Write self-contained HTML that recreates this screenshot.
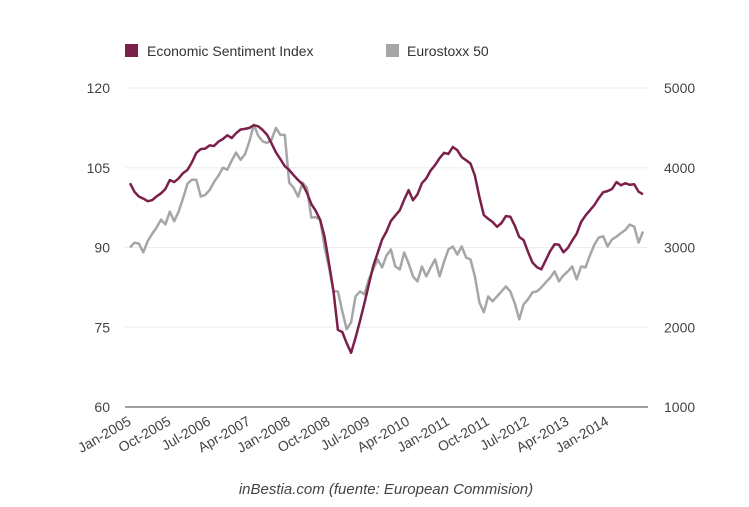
<!DOCTYPE html>
<html><head><meta charset="utf-8">
<style>
body{margin:0;background:#fff;}
svg{font-family:"Liberation Sans",sans-serif;}
</style></head>
<body>
<svg id="chart" width="749" height="502" viewBox="0 0 749 502" xmlns="http://www.w3.org/2000/svg">
<g>
 <rect x="125" y="44" width="13" height="13" fill="#7b1f4b"/>
 <text x="147" y="56" font-size="14" fill="#333">Economic Sentiment Index</text>
 <rect x="386" y="44" width="13" height="13" fill="#a6a6a6"/>
 <text x="407" y="56" font-size="14" fill="#333">Eurostoxx 50</text>
</g>
<g id="grid"></g>
<g id="yl"></g>
<g id="yr"></g>
<g id="xl"></g>
<g id="series"></g>
<text x="386" y="494" font-size="15" font-style="italic" fill="#444" text-anchor="middle">inBestia.com (fuente: European Commision)</text>
</svg>
<script>
const esi=[102.1,100.5,99.6,99.2,98.7,98.9,99.6,100.2,101.0,102.7,102.3,103.0,104.0,104.6,106.0,107.8,108.5,108.6,109.2,109.1,109.9,110.4,111.1,110.6,111.5,112.2,112.3,112.5,113.0,112.8,112.1,111.2,109.6,107.9,106.6,105.3,104.6,103.6,102.7,101.9,100.3,98.2,96.9,95.2,92.0,87.0,81.9,74.5,74.1,72.0,70.2,73.0,76.2,79.5,83.0,86.5,89.0,91.5,93.0,95.0,96.0,97.0,99.0,100.8,98.9,100.0,102.1,103.0,104.5,105.5,106.8,107.8,107.6,108.9,108.3,107.0,106.4,105.8,103.5,99.5,96.1,95.4,94.8,93.9,94.6,95.9,95.8,94.1,92.0,91.4,89.2,87.2,86.3,85.9,87.6,89.3,90.6,90.5,89.1,89.9,91.3,92.6,94.8,96.0,97.0,98.0,99.3,100.4,100.6,101.0,102.3,101.7,102.1,101.8,101.9,100.5,100.0];
const stoxx=[3000,3060,3050,2940,3080,3170,3250,3350,3290,3450,3330,3450,3620,3800,3850,3850,3640,3660,3720,3820,3900,4000,3975,4090,4190,4100,4170,4330,4540,4400,4330,4312,4350,4500,4412,4412,3812,3750,3637,3812,3750,3375,3380,3350,3000,2750,2450,2450,2200,1975,2062,2387,2450,2412,2600,2725,2850,2750,2900,2975,2762,2725,2937,2800,2637,2575,2762,2637,2750,2850,2637,2820,2975,3012,2912,3012,2875,2850,2637,2312,2187,2387,2325,2387,2450,2512,2450,2300,2100,2287,2350,2437,2450,2500,2562,2620,2700,2575,2650,2700,2762,2600,2762,2750,2900,3037,3125,3140,3012,3100,3137,3180,3220,3287,3262,3062,3200];
const leftTicks=[60,75,90,105,120];
const rightTicks=[1000,2000,3000,4000,5000];
const xLabels=["Jan-2005","Oct-2005","Jul-2006","Apr-2007","Jan-2008","Oct-2008","Jul-2009","Apr-2010","Jan-2011","Oct-2011","Jul-2012","Apr-2013","Jan-2014"];
const labelStep=9;
const NS="http://www.w3.org/2000/svg";
const X0=130,X1=643,YT=88,YB=407;
const xs=i=>X0+(X1-X0)*i/(esi.length-1);
const yL=v=>YB-(v-60)/(120-60)*(YB-YT);
const yR=v=>YB-(v-1000)/(5000-1000)*(YB-YT);
function mk(tag,attrs,parent){const e=document.createElementNS(NS,tag);for(const k in attrs)e.setAttribute(k,attrs[k]);parent.appendChild(e);return e;}
const grid=document.getElementById('grid'),yl=document.getElementById('yl'),yr=document.getElementById('yr'),xl=document.getElementById('xl'),ser=document.getElementById('series');
leftTicks.forEach((t,i)=>{
 const y=yL(t);
 if(i>0){const g=mk('line',{x1:125,x2:648,y1:y,y2:y,stroke:'#eeeeee','stroke-width':1},grid);
 
 }
 const tx=mk('text',{x:110,y:y+5,'font-size':14,fill:'#444','text-anchor':'end'},yl);tx.textContent=t;
 
 
});
rightTicks.forEach(t=>{
 const y=yR(t);
 const tx=mk('text',{x:664,y:y+5,'font-size':14,fill:'#444'},yr);tx.textContent=t;
 
 
});
const ax=mk('line',{x1:125,x2:648,y1:YB,y2:YB,stroke:'#666','stroke-width':1.3},xl);


xLabels.forEach((l,i)=>{
 const x=xs(i*labelStep)+2,y=YB+17;
 const tx=mk('text',{x:x,y:y,'font-size':14,fill:'#444','text-anchor':'end',transform:`rotate(-30 ${x} ${y})`},xl);tx.textContent=l;
 
 
});
const p2=mk('polyline',{points:stoxx.map((v,i)=>xs(i).toFixed(1)+','+yR(v).toFixed(1)).join(' '),fill:'none',stroke:'#a6a6a6','stroke-width':2.5,'stroke-linejoin':'round'},ser);


const p1=mk('polyline',{points:esi.map((v,i)=>xs(i).toFixed(1)+','+yL(v).toFixed(1)).join(' '),fill:'none',stroke:'#7b1f4b','stroke-width':2.5,'stroke-linejoin':'round'},ser);


</script>
</body></html>
